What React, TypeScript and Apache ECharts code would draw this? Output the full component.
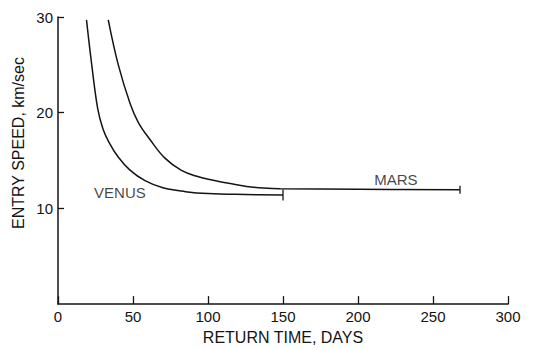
import React, { useEffect, useRef } from "react";
import * as echarts from "echarts";

const xTicks = [0, 50, 100, 150, 200, 250, 300];
const yTicks = [0, 10, 20, 30];

const venusX = [19, 22.5, 26.5, 30, 34, 40, 48, 58, 70, 85, 100, 125, 150];
const venusY = [29.7, 25.0, 20.4, 18.3, 16.9, 15.4, 14.0, 12.9, 12.15, 11.75, 11.55, 11.45, 11.4];

const marsX = [33.5, 40.2, 48, 53.5, 61.3, 71.3, 82, 92.5, 103.5, 114.7, 125.8, 137, 148, 200, 268];
const marsY = [29.7, 25.0, 21.0, 19.0, 17.2, 15.25, 14.0, 13.35, 12.95, 12.6, 12.3, 12.13, 12.05, 12.0, 11.95];

const curveLabels = ["VENUS", "MARS"];
const labelX = [41.3, 225.3];
const labelY = [11.7, 13.0];

const FONT = "'Liberation Sans', Arial, Helvetica, sans-serif";
const INK = "#141414";

export default function App() {
  const ref = useRef<HTMLDivElement>(null);

  useEffect(() => {
    if (!ref.current) return;
    const chart = echarts.init(ref.current, null, { renderer: "svg" });
    const venus = venusX.map((x, i) => [x, venusY[i]]);
    const mars = marsX.map((x, i) => [x, marsY[i]]);
    const ends = [
      { value: venus[venus.length - 1], symbolSize: [1.6, 11] },
      { value: mars[mars.length - 1], symbolSize: [1.6, 8] },
    ];
    chart.setOption({
      animation: false,
      backgroundColor: "#ffffff",
      textStyle: { fontFamily: FONT, color: INK },
      grid: { left: 58, right: 32, top: 17, bottom: 39, containLabel: false },
      xAxis: {
        type: "value",
        min: xTicks[0],
        max: xTicks[xTicks.length - 1],
        interval: 50,
        name: "RETURN TIME, DAYS",
        nameLocation: "middle",
        nameGap: 21,
        nameTextStyle: { fontFamily: FONT, fontSize: 16, color: INK },
        axisLine: { show: true, onZero: false, lineStyle: { color: INK, width: 1.5 } },
        axisTick: { show: true, inside: true, length: 8, lineStyle: { color: INK, width: 1.3 } },
        axisLabel: { margin: 5, fontFamily: FONT, fontSize: 15, color: INK },
        splitLine: { show: false },
      },
      yAxis: {
        type: "value",
        min: yTicks[0],
        max: yTicks[yTicks.length - 1],
        interval: 10,
        axisLine: { show: true, lineStyle: { color: INK, width: 1.5 } },
        axisTick: { show: true, inside: true, length: 6, lineStyle: { color: INK, width: 1.3 } },
        axisLabel: { margin: 5, fontFamily: FONT, fontSize: 15, color: INK, showMinLabel: false },
        splitLine: { show: false },
      },
      graphic: [
        {
          type: "text",
          x: 18,
          y: 143,
          rotation: Math.PI / 2,
          style: {
            text: "ENTRY SPEED, km/sec",
            fill: INK,
            font: `16px ${FONT}`,
            align: "center",
            verticalAlign: "middle",
            textAlign: "center",
            textVerticalAlign: "middle",
          },
        },
      ],
      series: [
        {
          type: "line",
          name: "VENUS",
          data: venus,
          smooth: 0.4,
          symbol: "none",
          lineStyle: { color: INK, width: 1.5 },
        },
        {
          type: "line",
          name: "MARS",
          data: mars,
          smooth: 0.4,
          symbol: "none",
          lineStyle: { color: INK, width: 1.5 },
        },
        {
          type: "scatter",
          data: ends,
          symbol: "rect",
          itemStyle: { color: INK },
          silent: true,
        },
        {
          type: "scatter",
          data: curveLabels.map((n, i) => ({ name: n, value: [labelX[i], labelY[i]] })),
          symbolSize: 1,
          itemStyle: { color: "rgba(0,0,0,0)" },
          silent: true,
          label: {
            show: true,
            position: "inside",
            formatter: "{b}",
            fontFamily: FONT,
            fontSize: 15,
            color: INK,
          },
        },
      ],
    });
    return () => chart.dispose();
  }, []);

  return (
    <div
      ref={ref}
      style={{ position: "fixed", left: 0, top: 0, width: 540, height: 350, background: "#fff" }}
    />
  );
}
